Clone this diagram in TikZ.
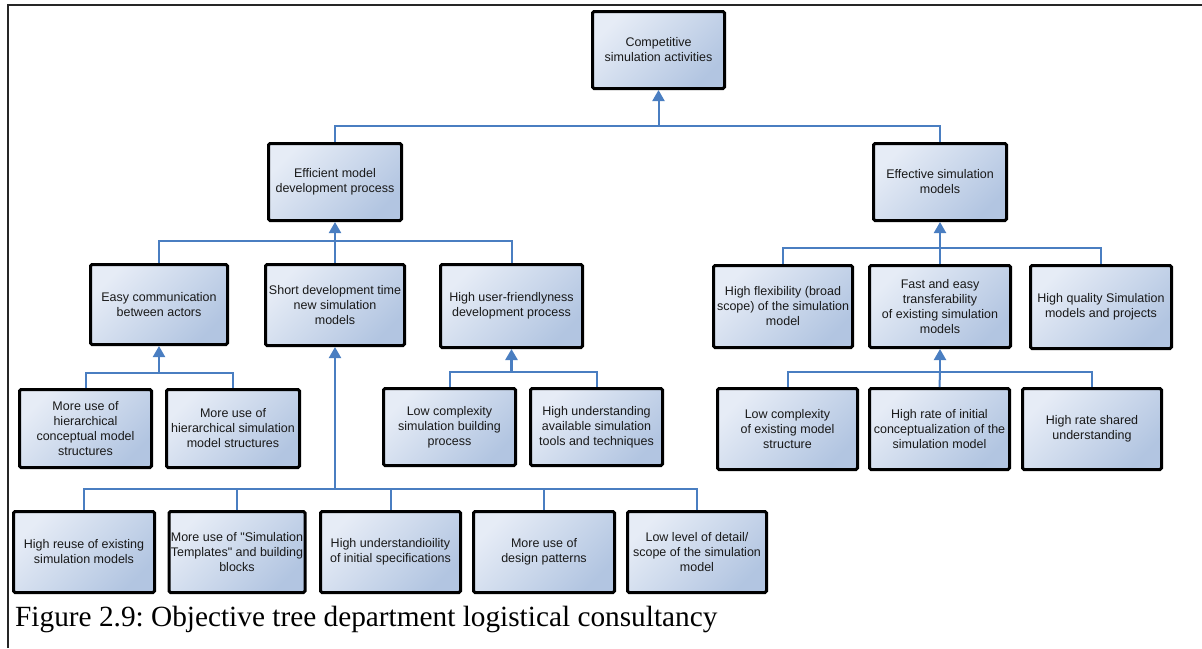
\documentclass[tikz,border=0pt]{standalone}
\usepackage{fontspec}
\setmainfont{Liberation Serif}
\newfontfamily\boxfont{Liberation Sans}
\usetikzlibrary{arrows.meta}
\frenchspacing

\definecolor{boxlight}{RGB}{230,236,246}
\definecolor{boxdark}{RGB}{178,197,225}
\definecolor{linkblue}{RGB}{74,126,193}

\begin{document}
\begin{tikzpicture}[x=1pt,y=-1pt,
  goal/.style={draw=black, line width=3pt, rounded corners=1.5pt,
    top color=boxlight, bottom color=boxdark, shading angle=45,
    align=center, inner sep=1pt, text=black!90,
    font=\boxfont\fontsize{12.5}{15}\selectfont},
  dims/.style 2 args={minimum width=#1pt, minimum height=#2pt},
  link/.style={draw=linkblue, line width=2pt},
  up/.style={link, -{Triangle[width=12pt,length=11pt]}}]

\useasboundingbox (0,0) rectangle (1202,648);

% page frame
\draw[line width=2pt, black!85] (8,648) -- (8,5) -- (1202,5);

% level 1
\node[goal, dims={132}{77}] (top) at (658.5,50) {Competitive\\simulation activities};

% level 2
\node[goal, dims={133}{77}] (eff) at (335,182) {Efficient model\\development process};
\node[goal, dims={133}{77}] (effs) at (940,182) {Effective simulation\\models};

% level 3, left
\node[goal, dims={137}{80}] (easy) at (159,304.5) {Easy communication\\between actors};
\node[goal, dims={139}{81}] (short) at (335,305) {Short development time\\new simulation\\models};
\node[goal, dims={142}{83}] (user) at (511.5,306) {High user-friendlyness\\development process};

% level 3, right
\node[goal, dims={139}{82}] (flex) at (783,306.5) {High flexibility (broad\\scope) of the simulation\\model};
\node[goal, dims={141}{82}] (fast) at (940,306.5) {Fast and easy\\transferability\\of existing simulation\\models};
\node[goal, dims={141}{83}] (qual) at (1101,307) {High quality Simulation\\models and projects};

% level 4, left
\node[goal, dims={132}{78}] (hcm) at (85.5,428.5) {More use of\\hierarchical\\conceptual model\\structures};
\node[goal, dims={133}{78}] (hsm) at (233,428.5) {More use of\\hierarchical simulation\\model structures};
\node[goal, dims={132}{77}] (lcs) at (449.5,427) {Low complexity\\simulation building\\process};
\node[goal, dims={132}{77}] (hua) at (596.5,427) {High understanding\\available simulation\\tools and techniques};

% level 4, right
\node[goal, dims={140}{81}] (lce) at (787.5,429) {Low complexity\\of existing model\\structure};
\node[goal, dims={140}{81}] (hri) at (939.5,429) {High rate of initial\\conceptualization of the\\simulation model};
\node[goal, dims={139}{81}] (hrs) at (1092,429) {High rate shared\\understanding};

% bottom row
\node[goal, dims={141}{81}] (b1) at (84,552) {High reuse of existing\\simulation models};
\node[goal, dims={136}{81}] (b2) at (237,552) {More use of "Simulation\\Templates" and building\\blocks};
\node[goal, dims={140}{81}] (b3) at (390.5,552) {High understandioility\\of initial specifications};
\node[goal, dims={141}{81}] (b4) at (544,552) {More use of\\design patterns};
\node[goal, dims={139}{81}] (b5) at (697,552) {Low level of detail/\\scope of the simulation\\model};

% bus junctions
\coordinate (jtop) at (658.5,126);
\coordinate (jeff) at (335,241);
\coordinate (jeffs) at (940,248);
\coordinate (jeasy) at (159,373);
\coordinate (juser) at (511.5,372);
\coordinate (jfast) at (940,372);
\coordinate (jshort) at (335,489);

% connectors
\draw[up] (jtop) -- (top.south);
\draw[link] (eff.north) |- (jtop);
\draw[link] (effs.north) |- (jtop);

\draw[up] (jeff) -- (eff.south);
\draw[link] (easy.north) |- (jeff);
\draw[link] (short.north) -- (jeff);
\draw[link] (user.north) |- (jeff);

\draw[up] (jeffs) -- (effs.south);
\draw[link] (flex.north) |- (jeffs);
\draw[link] (fast.north) -- (jeffs);
\draw[link] (qual.north) |- (jeffs);

\draw[up] (jeasy) -- (easy.south);
\draw[link] (hcm.north) |- (jeasy);
\draw[link] (hsm.north) |- (jeasy);

\draw[up, line width=2.6pt] (juser) -- (user.south);
\draw[link] (lcs.north) |- (juser);
\draw[link] (hua.north) |- (juser);

\draw[up] (jfast) -- (fast.south);
\draw[link] (lce.north) |- (jfast);
\draw[link] (hri.north) -- (jfast);
\draw[link] (hrs.north) |- (jfast);

\draw[up] (jshort) -- (short.south);
\draw[link] (b1.north) |- (jshort);
\draw[link] (b2.north) |- (jshort);
\draw[link] (b3.north) |- (jshort);
\draw[link] (b4.north) |- (jshort);
\draw[link] (b5.north) |- (jshort);

% caption
\node[anchor=base west, inner sep=0pt, font=\fontsize{29.3}{34}\selectfont] (cap) at (15,626)
  {Figure 2.9: Objective tree department logistical consultancy};
\end{tikzpicture}
\end{document}
